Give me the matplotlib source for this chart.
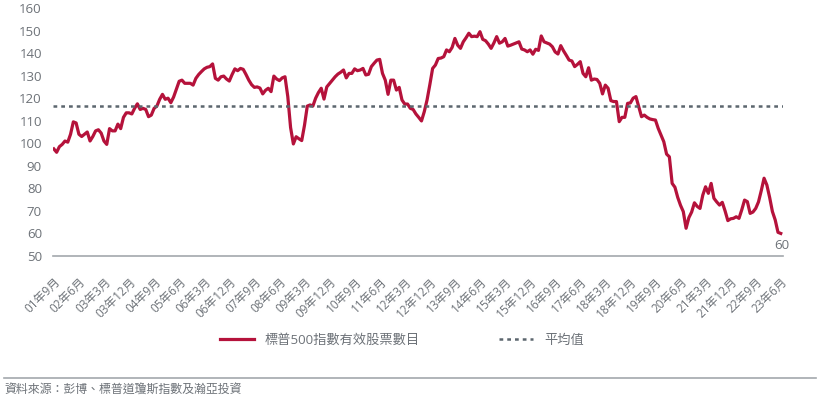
import numpy as np
import matplotlib
matplotlib.use('Agg')
import matplotlib.pyplot as plt

plt.rcParams['font.family'] = ['Open Sans', 'Noto Sans CJK TC', 'DejaVu Sans']

# 標普500指數有效股票數目, 每月, 2001年9月 ~ 2023年6月
valores = [
    97.5, 96, 98.5, 99.5, 101, 100.5, 104, 109.5, 109, 104, 103, 104,
    105, 101, 103, 105.5, 106, 104.5, 101, 99.5, 106.5, 105.5, 105.5, 108.5,
    106.5, 111.5, 113.5, 113.5, 113, 115.5, 117.5, 115, 115.5, 115, 111.8, 112.5,
    115.5, 116.5, 119.5, 121.7, 119.5, 120, 118, 120.5, 124, 127.5, 128, 126.6,
    126.6, 126.6, 125.8, 128.8, 130.5, 131.8, 133, 133.7, 134, 135.2, 128.8, 128,
    129.5, 129.8, 128.5, 127.6, 130.5, 133, 132.2, 133.2, 132.8, 130.5, 128, 126,
    124.8, 125, 124.5, 121.9, 123.5, 124.4, 122.9, 129.8, 128.5, 127.8, 129, 129.5,
    120.7, 107, 99.7, 102.9, 102, 101.2, 108, 116.5, 117, 116.5, 120, 122.5,
    124.4, 119.6, 125, 126.5, 128, 129.5, 130.7, 131.5, 132.5, 129, 131, 131,
    133, 132.2, 132.5, 133.2, 130.3, 130.6, 134, 135.5, 136.9, 137.2, 131, 128,
    121.7, 128, 128, 123.6, 124.8, 119.2, 117.4, 117.4, 115.5, 115, 113, 111.5,
    109.9, 114, 119.2, 126, 133.2, 134.7, 137.6, 137.8, 138.4, 141.4, 140.6, 142.5,
    146.5, 143.5, 142.1, 145, 146.8, 148.8, 147.3, 147.5, 147.3, 149.5, 146.1, 145.5,
    144, 142.1, 144.5, 147.3, 144.4, 145, 146.5, 143.1, 143.5, 144, 144.5, 145,
    141.8, 141.4, 140.6, 141.4, 139.5, 141.7, 141.2, 147.6, 145, 144.5, 144, 142.8,
    140.5, 139.6, 143.3, 141, 139, 136.9, 136.5, 134, 135, 136.2, 131, 129.5,
    133.5, 128, 128.5, 128.3, 126.6, 121.9, 125.8, 124.4, 118.9, 118.5, 118.5, 109.6,
    111.5, 111.5, 117.7, 117.9, 120, 120.7, 116.2, 111.8, 112.5, 111.5, 110.8, 110.5,
    110.3, 106.6, 103.7, 100.7, 95.2, 94, 82.2, 80.5, 76, 72.5, 69.7, 62.3,
    67, 69.5, 73.6, 72, 71.1, 77, 80.7, 77.8, 82.2, 75.6, 74, 72.6,
    73.8, 70, 65.7, 66.5, 66.7, 67.4, 66.7, 70.5, 74.8, 74.1, 68.9, 69.5,
    71.1, 74, 79, 84.5, 81.5, 76, 69.7, 66, 60.5, 60,
]
media = 116.5

rotulos_x = ['01年9月', '02年6月', '03年3月', '03年12月', '04年9月', '05年6月',
             '06年3月', '06年12月', '07年9月', '08年6月', '09年3月', '09年12月',
             '10年9月', '11年6月', '12年3月', '12年12月', '13年9月', '14年6月',
             '15年3月', '15年12月', '16年9月', '17年6月', '18年3月', '18年12月',
             '19年9月', '20年6月', '21年3月', '21年12月', '22年9月', '23年6月']
rotulos_y = [50, 60, 70, 80, 90, 100, 110, 120, 130, 140, 150, 160]

cinza = '#6d7278'
vermelho = '#b5123b'

x = np.arange(len(valores))

fig = plt.figure(figsize=(8.2, 3.98), dpi=100)
ax = fig.add_axes([53 / 820, 1 - 256 / 398, 730 / 820, 248 / 398])

ax.plot(x, valores, color=vermelho, lw=2.3, label='標普500指數有效股票數目', solid_joinstyle='round')
ax.axhline(media, color='#5c666e', lw=1.8, ls=(0, (1.5, 1.6)), label='平均值')

ax.set_xlim(-0.3, len(valores) - 0.2)
ax.set_ylim(50, 160)
ax.set_yticks(rotulos_y)
ax.set_yticklabels([str(v) for v in rotulos_y], fontsize=9.5, color=cinza)
ax.set_xticks(x[::9])
ax.set_xticklabels(rotulos_x, rotation=45, ha='right', rotation_mode='anchor',
                   fontsize=8.5, color=cinza)
ax.tick_params(axis='both', length=0)
ax.tick_params(axis='x', pad=14)
ax.tick_params(axis='y', pad=8)

for lado in ['top', 'right', 'left']:
    ax.spines[lado].set_visible(False)
ax.spines['bottom'].set_color('#a3a8ad')
ax.spines['bottom'].set_linewidth(1.2)

ax.annotate(str(int(valores[-1])), xy=(x[-1], valores[-1]), xytext=(1, -4),
            textcoords='offset points', ha='center', va='top', fontsize=9.5, color=cinza)

fig.legend(loc='center', bbox_to_anchor=(0.49, 1 - 340 / 398), ncol=2, frameon=False,
           fontsize=9.5, labelcolor=cinza, handlelength=2.6, columnspacing=6)

fig.add_artist(plt.Line2D([0.005, 0.995], [1 - 378 / 398] * 2, color='#a3a8ad', lw=1.2))
fig.text(0.006, 1 - 390 / 398, '資料來源：彭博、標普道瓊斯指數及瀚亞投資', fontsize=8.6,
         color=cinza, va='center', ha='left')

fig.savefig('out.png', dpi=100)
